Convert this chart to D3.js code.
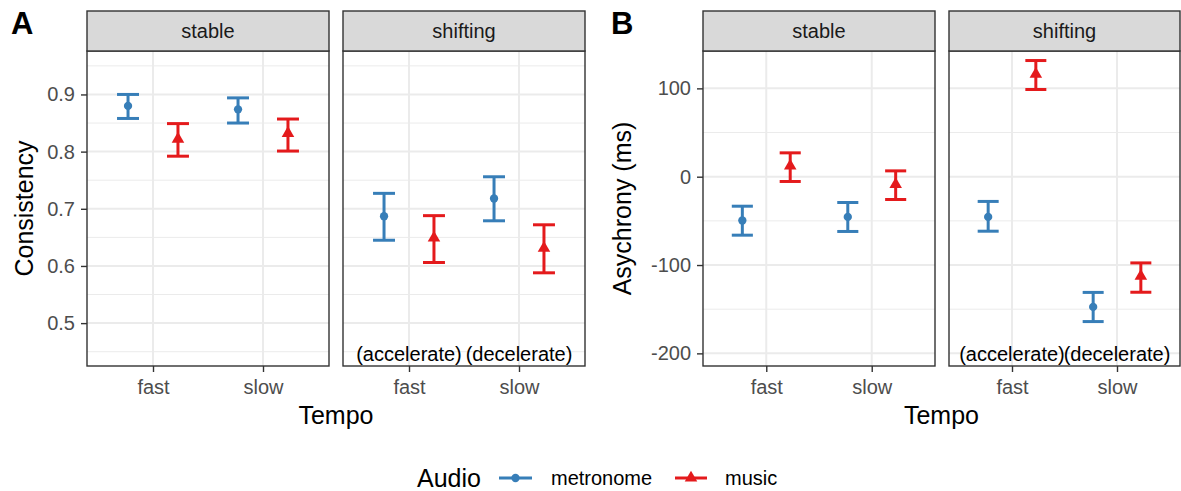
<!DOCTYPE html>
<html><head><meta charset="utf-8">
<script src="https://cdn.jsdelivr.net/npm/d3@7"></script>
<style>
body{margin:0;background:#fff;}
svg{display:block;font-family:"Liberation Sans",Arial,sans-serif;}
</style></head>
<body><svg id="chart" width="1181" height="491"></svg>
<script>
// ---- data ----
const facets = ["stable", "shifting"];
const tempos = ["fast", "slow"];
const audios = ["metronome", "music"];
const facetNotes = ["(accelerate)", "(decelerate)"];
// order: stable fast metronome, stable fast music, stable slow metronome, stable slow music, then shifting same
const consistencyMean  = [0.880, 0.822, 0.874, 0.832, 0.687, 0.649, 0.718, 0.631];
const consistencyLower = [0.858, 0.792, 0.850, 0.801, 0.645, 0.606, 0.679, 0.588];
const consistencyUpper = [0.900, 0.849, 0.894, 0.857, 0.727, 0.688, 0.756, 0.672];
const asynchronyMean  = [-49.6, 12.2, -45.5, -8.8, -45.5, 116.0, -147.4, -112.6];
const asynchronyLower = [-66.2, -5.4, -62.0, -25.8, -61.7, 98.7, -164.0, -130.8];
const asynchronyUpper = [-33.4, 27.0, -29.2, 6.6, -28.0, 131.5, -131.0, -97.6];
const consistencyTicks = [0.5, 0.6, 0.7, 0.8, 0.9];
const consistencyMinor = [0.45, 0.55, 0.65, 0.75, 0.85, 0.95];
const asynchronyTicks = [-200, -100, 0, 100];
const asynchronyMinor = [-150, -50, 50];

const colors = {metronome: "#377EB8", music: "#E41A1C"};

function rows(mean, lower, upper) {
  const out = [];
  let i = 0;
  facets.forEach(f => tempos.forEach(t => audios.forEach(a => {
    out.push({facet: f, tempo: t, audio: a, mean: mean[i], lower: lower[i], upper: upper[i]});
    i++;
  })));
  return out;
}

const svg = d3.select("#chart");
const plotTop = 51, plotBottom = 366, stripTop = 11;
const fontF = '"Liberation Sans",Arial,sans-serif';
const symFor = a => d3.symbol(a === "metronome" ? d3.symbolCircle : d3.symbolTriangle, a === "metronome" ? 54 : 68)();

function drawPanel(cfg) {
  const y = d3.scaleLinear().domain(cfg.yDomain).range([plotBottom, plotTop]);
  const data = rows(cfg.mean, cfg.lower, cfg.upper);
  cfg.facetX.forEach((fx, fi) => {
    const facet = facets[fi];
    const x = d3.scalePoint().domain(tempos).range(fx).padding(0.6);
    const step = x.step();
    const g = svg.append("g");
    // background grid
    g.selectAll(".minor").data(cfg.minor).join("line")
      .attr("x1", fx[0]).attr("x2", fx[1]).attr("y1", d => y(d)).attr("y2", d => y(d))
      .attr("stroke", "#EBEBEB").attr("stroke-width", 1);
    g.selectAll(".major").data(cfg.ticks).join("line")
      .attr("x1", fx[0]).attr("x2", fx[1]).attr("y1", d => y(d)).attr("y2", d => y(d))
      .attr("stroke", "#EBEBEB").attr("stroke-width", 2);
    g.selectAll(".vmajor").data(tempos).join("line")
      .attr("x1", d => x(d)).attr("x2", d => x(d)).attr("y1", plotTop).attr("y2", plotBottom)
      .attr("stroke", "#EBEBEB").attr("stroke-width", 2);
    // note text on shifting
    if (facet === "shifting") {
      g.selectAll(".note").data(tempos).join("text")
        .attr("x", d => x(d)).attr("y", 354)
        .attr("text-anchor", "middle").attr("dominant-baseline", "central")
        .attr("font-size", 20).attr("fill", "#000")
        .text((d, i) => facetNotes[i]);
    }
    // error bars
    const dodge = d => x(d.tempo) + (d.audio === "metronome" ? -1 : 1) * 0.227 * step;
    const cap = 0.1 * step;
    const fd = data.filter(d => d.facet === facet);
    const eb = g.selectAll(".eb").data(fd).join("g");
    eb.append("line").attr("x1", dodge).attr("x2", dodge)
      .attr("y1", d => y(d.lower)).attr("y2", d => y(d.upper))
      .attr("stroke", d => colors[d.audio]).attr("stroke-width", 3);
    eb.append("line").attr("x1", d => dodge(d) - cap).attr("x2", d => dodge(d) + cap)
      .attr("y1", d => y(d.upper)).attr("y2", d => y(d.upper))
      .attr("stroke", d => colors[d.audio]).attr("stroke-width", 3);
    eb.append("line").attr("x1", d => dodge(d) - cap).attr("x2", d => dodge(d) + cap)
      .attr("y1", d => y(d.lower)).attr("y2", d => y(d.lower))
      .attr("stroke", d => colors[d.audio]).attr("stroke-width", 3);
    eb.append("path")
      .attr("d", d => symFor(d.audio))
      .attr("transform", d => `translate(${dodge(d)},${y(d.mean)})`)
      .attr("fill", d => colors[d.audio]);
    // border
    g.append("rect").attr("x", fx[0]).attr("y", plotTop).attr("width", fx[1] - fx[0]).attr("height", plotBottom - plotTop)
      .attr("fill", "none").attr("stroke", "#333333").attr("stroke-width", 1.4);
    // strip
    g.append("rect").attr("x", fx[0]).attr("y", stripTop).attr("width", fx[1] - fx[0]).attr("height", plotTop - stripTop)
      .attr("fill", "#D9D9D9").attr("stroke", "#333333").attr("stroke-width", 1.4);
    g.append("text").attr("x", (fx[0] + fx[1]) / 2).attr("y", (stripTop + plotTop) / 2)
      .attr("text-anchor", "middle").attr("dominant-baseline", "central")
      .attr("font-size", 20).attr("fill", "#1A1A1A").text(facet);
    // x axis
    const ax = svg.append("g").attr("transform", `translate(0,${plotBottom})`)
      .call(d3.axisBottom(x).tickSize(6).tickPadding(8));
    ax.select(".domain").remove();
    ax.selectAll(".tick line").attr("stroke", "#333333").attr("stroke-width", 1.4);
    ax.selectAll(".tick text").attr("font-size", 20).attr("fill", "#4D4D4D").attr("font-family", fontF);
  });
  // y axis
  const ay = svg.append("g").attr("transform", `translate(${cfg.facetX[0][0]},0)`)
    .call(d3.axisLeft(y).tickValues(cfg.ticks).tickFormat(cfg.fmt).tickSize(6).tickPadding(6));
  ay.select(".domain").remove();
  ay.selectAll(".tick line").attr("stroke", "#333333").attr("stroke-width", 1.4);
  ay.selectAll(".tick text").attr("font-size", 20).attr("fill", "#4D4D4D").attr("font-family", fontF);
  // titles
  svg.append("text").attr("transform", `translate(${cfg.yTitleX},${(plotTop + plotBottom) / 2}) rotate(-90)`)
    .attr("text-anchor", "middle").attr("dominant-baseline", "central")
    .attr("font-size", 25).attr("fill", "#000").text(cfg.yTitle);
  svg.append("text").attr("x", (cfg.facetX[0][0] + cfg.facetX[1][1]) / 2).attr("y", 424)
    .attr("text-anchor", "middle").attr("font-size", 25).attr("fill", "#000").text("Tempo");
  svg.append("text").attr("x", cfg.tagX).attr("y", 34)
    .attr("font-size", 31).attr("font-weight", "bold").attr("fill", "#000").text(cfg.tag);
}

drawPanel({
  tag: "A", tagX: 11, yTitle: "Consistency", yTitleX: 24,
  mean: consistencyMean, lower: consistencyLower, upper: consistencyUpper,
  yDomain: [0.425, 0.976], ticks: consistencyTicks, minor: consistencyMinor,
  fmt: d3.format(".1f"),
  facetX: [[87, 329], [343, 585]]
});
drawPanel({
  tag: "B", tagX: 611, yTitle: "Asychrony (ms)", yTitleX: 622,
  mean: asynchronyMean, lower: asynchronyLower, upper: asynchronyUpper,
  yDomain: [-214.3, 142.3], ticks: asynchronyTicks, minor: asynchronyMinor,
  fmt: d => d3.format("d")(d).replace("−", "-"),
  facetX: [[703, 935], [949, 1180]]
});

// legend
const lg = svg.append("g");
const ly = 478;
lg.append("text").attr("x", 417).attr("y", ly).attr("dominant-baseline", "central")
  .attr("font-size", 25).attr("fill", "#000").text("Audio");
const keys = [
  {audio: audios[0], x0: 499, x1: 532, tx: 551},
  {audio: audios[1], x0: 675, x1: 707, tx: 725}
];
keys.forEach(k => {
  lg.append("line").attr("x1", k.x0).attr("x2", k.x1).attr("y1", ly).attr("y2", ly)
    .attr("stroke", colors[k.audio]).attr("stroke-width", 3);
  lg.append("path")
    .attr("d", symFor(k.audio))
    .attr("transform", `translate(${(k.x0 + k.x1) / 2},${ly})`).attr("fill", colors[k.audio]);
  lg.append("text").attr("x", k.tx).attr("y", ly).attr("dominant-baseline", "central")
    .attr("font-size", 20).attr("fill", "#000").text(k.audio);
});
</script></body></html>
